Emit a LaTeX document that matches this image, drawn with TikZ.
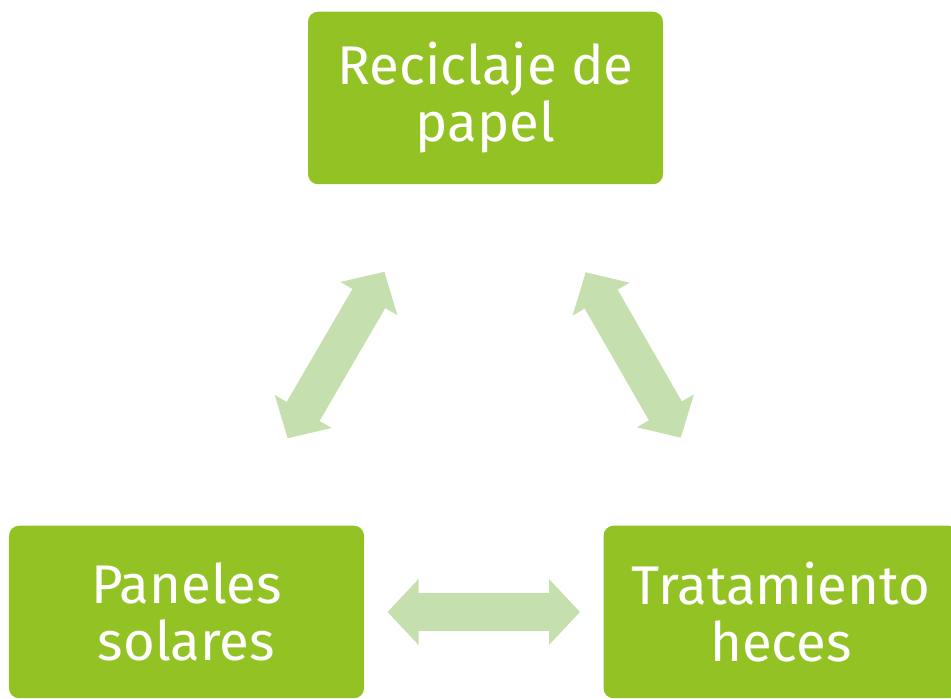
\documentclass[tikz,border=0pt]{standalone}
\usepackage{fontspec}
\setmainfont{Fira Sans}
\usetikzlibrary{arrows.meta}
\definecolor{boxgreen}{RGB}{147,194,37}
\definecolor{arrowgreen}{RGB}{197,223,174}
\tikzset{
  caja/.style={rectangle,rounded corners=0.2cm,fill=boxgreen,text=white,
    minimum width=7.1cm,minimum height=3.45cm,align=center,
    font=\fontsize{31}{32.5}\selectfont},
  flecha/.style={draw=arrowgreen,line width=0.76cm,
    {Triangle[width=1.28cm,length=0.62cm,fill=arrowgreen]}-{Triangle[width=1.28cm,length=0.62cm,fill=arrowgreen]},
    shorten <=4.02cm,shorten >=4.02cm}
}
\begin{document}
\begin{tikzpicture}
\clip (0,0) rectangle (19.02,13.98);

\node[caja] (papel) at (9.71,12.02) {Reciclaje de\\papel};
\node[caja] (paneles) at (3.73,1.74) {Paneles\\solares};
\node[caja] (heces) at (15.62,1.74) {Tratamiento\\heces};

\draw[flecha] (papel.center) -- (paneles.center);
\draw[flecha] (papel.center) -- (heces.center);
\draw[flecha] (paneles.center) -- (heces.center);
\end{tikzpicture}
\end{document}
